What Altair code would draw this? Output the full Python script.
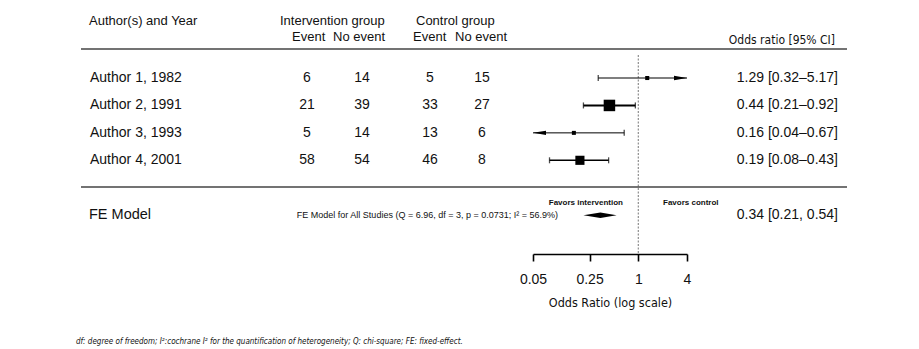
import altair as alt
import pandas as pd
import numpy as np

# ---------------- data ----------------
authors = ["Author 1, 1982", "Author 2, 1991", "Author 3, 1993", "Author 4, 2001"]
int_event = [6, 21, 5, 58]
int_noevent = [14, 39, 14, 54]
ctrl_event = [5, 33, 13, 46]
ctrl_noevent = [15, 27, 6, 8]
odds_ratio = [1.29, 0.44, 0.16, 0.19]
ci_lower = [0.32, 0.21, 0.04, 0.08]
ci_upper = [5.17, 0.92, 0.67, 0.43]
fe_estimate = 0.34
fe_lower = 0.21
fe_upper = 0.54
fe_stats = "FE Model for All Studies (Q = 6.96, df = 3, p = 0.0731; I² = 56.9%)"
axis_ticks = [0.05, 0.25, 1, 4]
footnote = ("df: degree of freedom; I²:cochrane I² for the quantification of "
            "heterogeneity; Q: chi-square; FE: fixed-effect.")

# ---------------- derived table ----------------
k = len(authors)
x_min, x_max = axis_ticks[0], axis_ticks[-1]
inv_var = [1 / a + 1 / b + 1 / c + 1 / d
           for a, b, c, d in zip(int_event, int_noevent, ctrl_event, ctrl_noevent)]
weights = [1 / v for v in inv_var]
wmin, wmax = min(weights), max(weights)
psize = [(w - wmin) / (wmax - wmin) for w in weights]

df = pd.DataFrame({
    "author": authors,
    "ie": int_event, "ine": int_noevent, "ce": ctrl_event, "cne": ctrl_noevent,
    "est": odds_ratio, "lo": ci_lower, "hi": ci_upper,
    "row": list(range(k, 0, -1)),
    "psize": psize,
})
df["lo_c"] = df["lo"].clip(lower=x_min)
df["hi_c"] = df["hi"].clip(upper=x_max)
df["side"] = 4 + 7.5 * df["psize"]
df["area"] = df["side"] ** 2
df["lw"] = 1.0 + 0.9 * df["psize"]
df["label"] = [f"{e:.2f} [{l:.2f}\u2013{h:.2f}]" for e, l, h in zip(odds_ratio, ci_lower, ci_upper)]

caps = pd.concat([
    df[df["lo"] >= x_min][["row", "lo"]].rename(columns={"lo": "x"}),
    df[df["hi"] <= x_max][["row", "hi"]].rename(columns={"hi": "x"}),
])
right_arrows = df[df["hi"] > x_max]
left_arrows = df[df["lo"] < x_min]

fe_row = -1
diamond = pd.DataFrame({
    "x": [fe_lower, fe_estimate, fe_upper],
    "top": [fe_row, fe_row + 0.1, fe_row],
    "bot": [fe_row, fe_row - 0.1, fe_row],
})
fe_df = pd.DataFrame({"row": [fe_row],
                      "label": [f"{fe_estimate:.2f} [{fe_lower:.2f}, {fe_upper:.2f}]"]})

# ---------------- styling ----------------
SANS = "Liberation Sans, Arial, sans-serif"
NARROW = "Liberation Sans Narrow, DejaVu Sans Condensed, sans-serif"
INK = "#111111"

xscale = alt.Scale(type="log", domain=[x_min, x_max], range=[533, 687], nice=False)
yscale = alt.Scale(domain=[-5.879, 6.844], nice=False, zero=False)
Y = alt.Y("row:Q", scale=yscale, axis=None)

xaxis = alt.Axis(values=axis_ticks, labelExpr="'' + datum.value", title="Odds Ratio (log scale)",
                 offset=-95, grid=False, tickSize=7, tickWidth=1.6, tickColor="black",
                 domainColor="black", domainWidth=1.6, labelFont=SANS, labelFontSize=14,
                 labelColor=INK, labelPadding=11, labelFlush=False, labelOverlap=False,
                 titleFont=NARROW, titleFontSize=12.5, titleFontWeight="normal",
                 titleColor=INK, titlePadding=10)


def X(field):
    return alt.X(f"{field}:Q", scale=xscale, axis=xaxis)


def label(text, x, y, size=13, align="left", font=SANS, weight="normal", style="normal"):
    return alt.Chart(pd.DataFrame({"t": [text]})).mark_text(
        align=align, baseline="middle", fontSize=size, font=font,
        fontWeight=weight, fontStyle=style, color=INK
    ).encode(x=alt.value(x), y=alt.value(y), text="t:N")


def hline(y):
    return alt.Chart(pd.DataFrame({"a": [0]})).mark_rule(color="#444444", strokeWidth=1.4).encode(
        x=alt.value(81), x2=alt.value(847), y=alt.value(y))


ref_line = alt.Chart(pd.DataFrame({"x": [1]})).mark_rule(
    color="#777777", strokeDash=[2, 1.5], strokeWidth=1
).encode(x=X("x"), y=alt.value(55), y2=alt.value(254))

base = alt.Chart(df)
ci = base.mark_rule(color="black").encode(
    x=X("lo_c"), x2="hi_c:Q", y=Y,
    strokeWidth=alt.StrokeWidth("lw:Q", scale=None))
cap_marks = alt.Chart(caps).mark_tick(orient="vertical", size=6, thickness=1.3, color="black").encode(
    x=X("x"), y=Y)
arrow_r = alt.Chart(right_arrows).mark_point(
    shape="M-1,-0.33L1,0L-1,0.33Z", filled=True, size=170, color="black", opacity=1, xOffset=-6.5
).encode(x=X("hi_c"), y=Y)
arrow_l = alt.Chart(left_arrows).mark_point(
    shape="M1,-0.33L-1,0L1,0.33Z", filled=True, size=170, color="black", opacity=1, xOffset=6.5
).encode(x=X("lo_c"), y=Y)
squares = base.mark_square(color="black", opacity=1).encode(
    x=X("est"), y=Y, size=alt.Size("area:Q", scale=None))
diamond_mark = alt.Chart(diamond).mark_area(color="black", opacity=1).encode(
    x=X("x"), y=alt.Y("top:Q", scale=yscale, axis=None), y2="bot:Q")


def col(field, x, align="center", size=14):
    return base.mark_text(align=align, baseline="middle", fontSize=size, font=SANS, color=INK).encode(
        x=alt.value(x), y=Y, text=f"{field}:N")


table = [
    col("author", 90, "left"),
    col("ie", 307), col("ine", 362), col("ce", 430), col("cne", 482),
    col("label", 838, "right"),
]

fe_text = [
    alt.Chart(fe_df).mark_text(align="left", baseline="middle", fontSize=14.5, font=SANS, color=INK).encode(
        x=alt.value(89), y=Y, text=alt.value("FE Model")),
    alt.Chart(fe_df).mark_text(align="right", baseline="middle", fontSize=14, font=SANS, color=INK).encode(
        x=alt.value(838), y=Y, text="label:N"),
    label(fe_stats, 558, 215, size=9, align="right"),
    label("Favors intervention", 623, 203, size=8, align="right", weight="bold"),
    label("Favors control", 663, 203, size=8, weight="bold"),
]

headers = [
    label("Author(s) and Year", 89, 21),
    label("Intervention group", 280, 21),
    label("Event", 292, 37), label("No event", 333, 37),
    label("Control group", 416, 21),
    label("Event", 413, 37), label("No event", 455, 37),
    label("Odds ratio [95% CI]", 835, 40, size=12, align="right", font=NARROW),
    label(footnote, 76, 342, size=8, font=NARROW, style="italic"),
]

chart = alt.layer(
    ref_line, hline(49), hline(187), ci, cap_marks, arrow_r, arrow_l, squares, diamond_mark,
    *table, *fe_text, *headers
).properties(
    width=919, height=349, padding=0,
    autosize=alt.AutoSizeParams(type="none"),
    background="white",
).configure_view(stroke=None)

chart.save("out.html", embed_options={"renderer": "svg", "actions": False})
